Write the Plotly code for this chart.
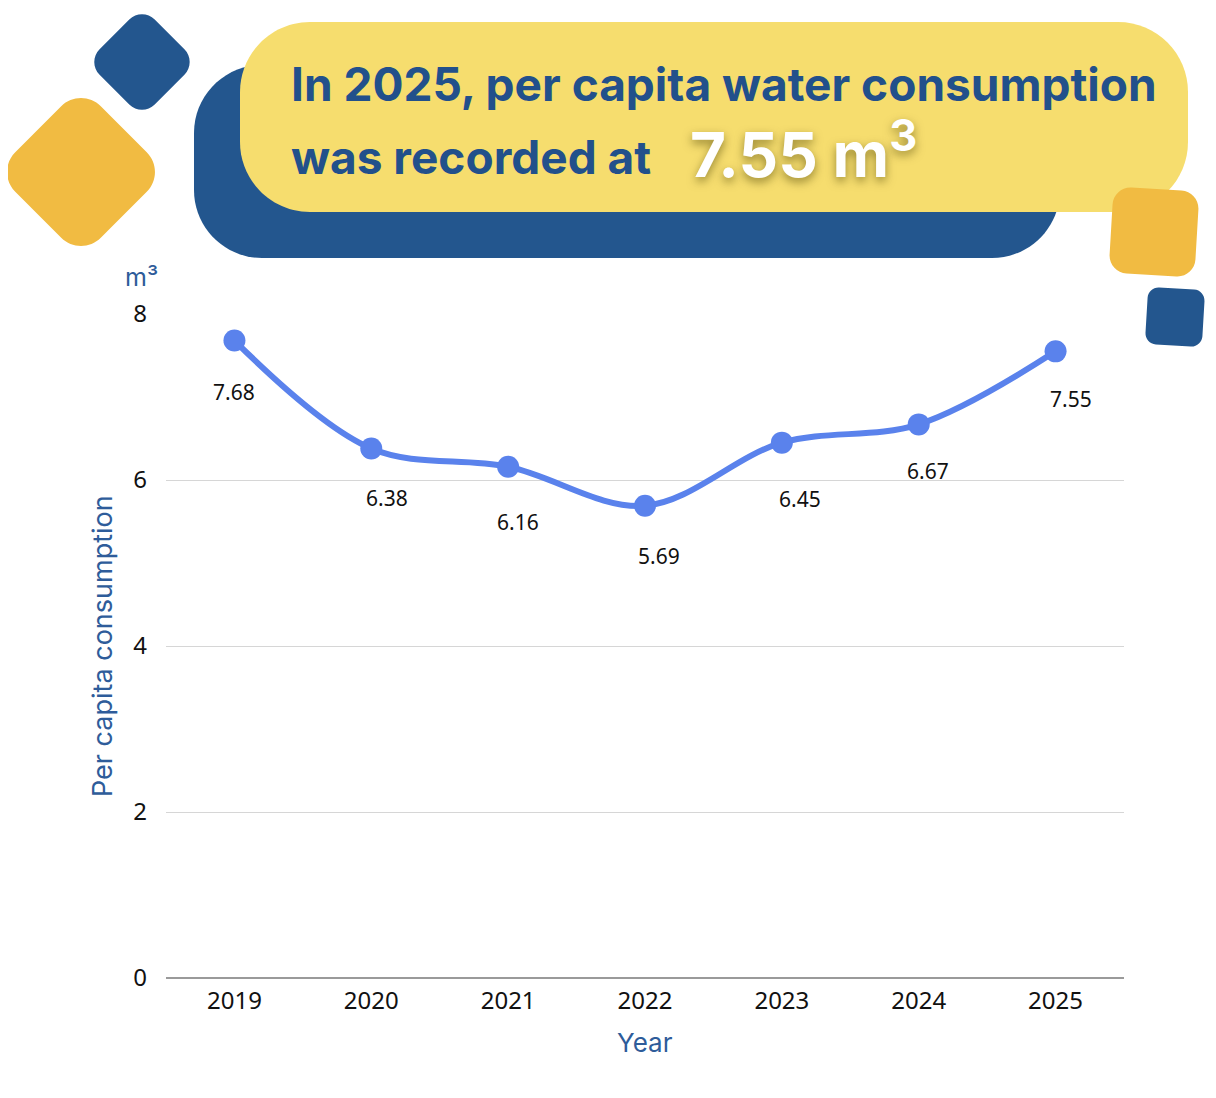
import math
import plotly.graph_objects as go

# data
years = ["2019", "2020", "2021", "2022", "2023", "2024", "2025"]
consumption = [7.68, 6.38, 6.16, 5.69, 6.45, 6.67, 7.55]
y_ticks = [0, 2, 4, 6, 8]

# label nudges (px) as placed in the original
label_dx = [0, 16, 10, 14, 18, 9, 15]
label_dy = [51, 50, 55, 50, 56, 47, 48]

W, H = 1216, 1098
OFF = 8  # page body margin
BLUE = "#23568E"
YELLOW = "#F6DD6E"
GOLD = "#F1BB42"
LINE = "#5A82EC"
TITLE_BLUE = "#2E5C9A"


def to_paper(x, y):
  return (x - OFF) / W, 1 - (y - OFF) / H


def rounded_path(pts, r):
  # pts in pixel coords, corners rounded with cubic curves
  k = 0.5523
  n = len(pts)
  segs = []
  for i in range(n):
    p = pts[i]
    prev = pts[i - 1]
    nxt = pts[(i + 1) % n]
    def toward(q):
      dx, dy = q[0] - p[0], q[1] - p[1]
      d = math.hypot(dx, dy)
      return (p[0] + r * dx / d, p[1] + r * dy / d)
    a = toward(prev)
    b = toward(nxt)
    c1 = (a[0] + k * (p[0] - a[0]), a[1] + k * (p[1] - a[1]))
    c2 = (b[0] + k * (p[0] - b[0]), b[1] + k * (p[1] - b[1]))
    segs.append((a, c1, c2, b))
  def f(pt):
    x, y = to_paper(*pt)
    return f"{x:.5f},{y:.5f}"
  path = "M " + f(segs[0][0])
  for i, (a, c1, c2, b) in enumerate(segs):
    if i > 0:
      path += " L " + f(a)
    path += " C " + f(c1) + " " + f(c2) + " " + f(b)
  path += " Z"
  return path


def rect_pts(x0, y0, x1, y1):
  return [(x0, y0), (x1, y0), (x1, y1), (x0, y1)]


def square_pts(cx, cy, s, angle_deg):
  a = math.radians(angle_deg)
  h = s / 2
  out = []
  for dx, dy in [(-h, -h), (h, -h), (h, h), (-h, h)]:
    out.append((cx + dx * math.cos(a) - dy * math.sin(a), cy + dx * math.sin(a) + dy * math.cos(a)))
  return out


def shape(path, color):
  return dict(type="path", path=path, xref="paper", yref="paper",
              fillcolor=color, line=dict(width=0), layer="above")


def label(px, py, text, font, **kw):
  x, y = to_paper(px, py)
  d = dict(x=x, y=y, xref="paper", yref="paper", xanchor="left", yanchor="middle",
           text=text, showarrow=False, font=font)
  d.update(kw)
  return d


fig = go.Figure()

fig.add_trace(go.Scatter(
  x=years, y=consumption, mode="lines+markers",
  line=dict(color=LINE, width=6, shape="spline", smoothing=1),
  marker=dict(color=LINE, size=22),
  hoverinfo="x+y", showlegend=False))

shapes = [
  shape(rounded_path(rect_pts(194, 65, 1060, 258), 68), BLUE),
  shape(rounded_path(rect_pts(240, 22, 1188, 212), 70), YELLOW),
  shape(rounded_path(square_pts(142, 62, 78, 45), 18), BLUE),
  shape(rounded_path(square_pts(81, 172, 121, 45), 28), GOLD),
  shape(rounded_path(square_pts(1154, 232, 86, 3.4), 18), GOLD),
  shape(rounded_path(square_pts(1175, 317, 57, 3.4), 11), BLUE),
]

annotations = []
for i, v in enumerate(consumption):
  annotations.append(dict(x=i, y=v, xref="x", yref="y", text=f"{v:.2f}",
                          showarrow=False, xshift=label_dx[i], yshift=-label_dy[i],
                          font=dict(family="Noto Sans", size=21, color="#111111")))

head_font = dict(family="Inter", size=46, weight=700, color="#22508B")
annotations.append(label(289, 84, "In 2025, per capita water consumption", head_font))
annotations.append(label(289, 157, "was recorded at", head_font))
annotations.append(label(688, 150, "7.55 m<sup>3</sup>",
                         dict(family="Inter", size=62, weight=700, color="white",
                              shadow="0px 4px 10px rgba(70,60,0,0.55)")))

annotations.append(label(141, 277, "m³", dict(family="Inter", size=25, color=TITLE_BLUE),
                         xanchor="center"))
annotations.append(label(645, 1042, "Year", dict(family="Inter", size=26, color=TITLE_BLUE),
                         xanchor="center"))
annotations.append(label(102, 646, "Per capita consumption",
                         dict(family="Inter", size=27, color=TITLE_BLUE),
                         xanchor="center", textangle=-90))

x_lo, _ = to_paper(166, 0)
x_hi, _ = to_paper(1124, 0)
_, y_lo = to_paper(0, 978)
_, y_hi = to_paper(0, 314)

fig.update_layout(
  width=W, height=H,
  margin=dict(l=0, r=0, t=0, b=0, autoexpand=False),
  paper_bgcolor="white", plot_bgcolor="white",
  shapes=shapes, annotations=annotations,
  xaxis=dict(domain=[x_lo, x_hi], type="category", range=[-0.5, 6.5],
             showgrid=False, zeroline=False, showline=False, ticks="",
             automargin=False,
             tickfont=dict(family="Noto Sans", size=24, color="#111111"),
             ticklabelstandoff=6),
  yaxis=dict(domain=[y_lo, y_hi], range=[0, 8], tickvals=y_ticks,
             showgrid=True, gridcolor="#d6d6d6", gridwidth=1,
             zeroline=True, zerolinecolor="#9a9a9a", zerolinewidth=1.5,
             showline=False, ticks="", automargin=False,
             tickfont=dict(family="Noto Sans", size=24, color="#111111"),
             ticklabelstandoff=18),
)

fig.write_html("out.html")
